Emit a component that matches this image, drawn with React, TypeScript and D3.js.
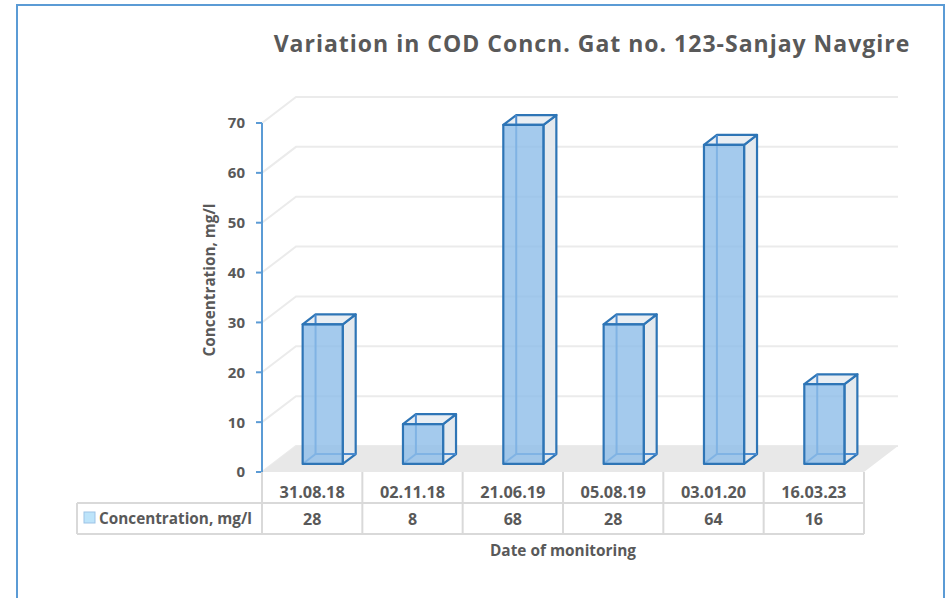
import React from "react";
import * as d3 from "d3";

const categories = ["31.08.18", "02.11.18", "21.06.19", "05.08.19", "03.01.20", "16.03.23"];
const values = [28, 8, 68, 28, 64, 16];
const yTicks = [0, 10, 20, 30, 40, 50, 60, 70];
const seriesName = "Concentration, mg/l";
const title = "Variation in COD Concn. Gat no. 123-Sanjay Navgire";
const xTitle = "Date of monitoring";
const yTitle = "Concentration, mg/l";

const W = 947;
const H = 598;
const FONT = "'Open Sans', sans-serif";
const TXT = "#595959";

// 3D geometry
const DEPTH_X = 34;
const DEPTH_Y = -26;
const Z_FRONT = 0.31;
const Z_BACK = 0.69;

export default function App() {
  const x = d3.scaleBand<string>().domain(categories).range([262, 864]).paddingInner(0).paddingOuter(0);
  const y = d3.scaleLinear().domain([0, 70]).range([472, 123]);
  const proj = (px: number, v: number, z: number): [number, number] => [px + DEPTH_X * z, y(v) + DEPTH_Y * z];
  const bw = x.bandwidth();
  const barW = bw * 0.4;
  const x0 = x.range()[0];
  const x1 = x.range()[1];

  const floor = [proj(x0, 0, 0), proj(x1, 0, 0), proj(x1, 0, 1), proj(x0, 0, 1)];

  const tableTop = 472;
  const rowMid = 503;
  const tableBottom = 534;
  const legendLeft = 77;

  return (
    <svg width={W} height={H} style={{ position: "absolute", left: 0, top: 0, background: "#fff" }}>
      <rect x={17} y={5} width={927} height={600} fill="#fff" stroke="#5b9bd5" strokeWidth={2} />
      <text x={592} y={52} textAnchor="middle" fontFamily={FONT} fontWeight={700} fontSize={23} fill={TXT} letterSpacing={1}>
        {title}
      </text>

      {/* back wall gridlines */}
      {yTicks.map((t) => {
        const a = proj(x0, t, 0);
        const b = proj(x0, t, 1);
        const c = proj(x1, t, 1);
        return (
          <polyline key={"g" + t} points={[a, b, c].map((p) => p.join(",")).join(" ")} fill="none" stroke="#ebebeb" strokeWidth={2} />
        );
      })}

      {/* floor */}
      <polygon points={floor.map((p) => p.join(",")).join(" ")} fill="#e8e8e8" />

      {/* axis */}
      <line x1={x0} x2={x0} y1={y(70)} y2={y(0)} stroke="#5b9bd5" strokeWidth={2} />
      {yTicks.map((t) => (
        <g key={"t" + t}>
          <line x1={x0 - 6} x2={x0} y1={y(t)} y2={y(t)} stroke="#5b9bd5" strokeWidth={2} />
          <text x={245} y={y(t)} dy="0.36em" textAnchor="end" fontFamily={FONT} fontWeight={700} fontSize={15} fill={TXT}>
            {t}
          </text>
        </g>
      ))}
      <text
        transform={`translate(215,280) rotate(-90)`}
        textAnchor="middle"
        fontFamily={FONT}
        fontWeight={700}
        fontSize={15.3}
        fill={TXT}
      >
        {yTitle}
      </text>

      {/* bars */}
      {categories.map((c, i) => {
        const v = values[i];
        const cx = (x(c) as number) + bw / 2;
        const fl = cx - barW / 2;
        const fr = cx + barW / 2;
        const [fx0, fyTop] = proj(fl, v, Z_FRONT);
        const [fx1, fyBot] = proj(fr, 0, Z_FRONT);
        const [bx0, byTop] = proj(fl, v, Z_BACK);
        const [bx1, byBot] = proj(fr, 0, Z_BACK);
        const pts = (arr: [number, number][]) => arr.map((p) => p.join(",")).join(" ");
        return (
          <g key={c}>
            <polygon points={pts([[fx1, fyBot], [fx1, fyTop], [bx1, byTop], [bx1, byBot]])} fill="#e4e9ee" stroke="#2e75b6" strokeWidth={2.2} strokeLinejoin="round" />
            <polygon points={pts([[fx0, fyTop], [fx1, fyTop], [bx1, byTop], [bx0, byTop]])} fill="#e9eef3" stroke="#2e75b6" strokeWidth={2.2} strokeLinejoin="round" />
            <polyline points={pts([[bx0, byTop], [bx0, byBot], [bx1, byBot]])} fill="none" stroke="#4a8bd0" strokeWidth={2} />
            <line x1={fx0} y1={fyBot} x2={bx0} y2={byBot} stroke="#4a8bd0" strokeWidth={2} />
            <rect x={fx0} y={fyTop} width={fx1 - fx0} height={fyBot - fyTop} fill="#8dbde9" fillOpacity={0.8} stroke="#2e75b6" strokeWidth={2.2} strokeLinejoin="round" />
          </g>
        );
      })}

      {/* data table */}
      <g stroke="#d9d9d9" strokeWidth={2} fill="none">
        {categories.map((c, i) => (
          <line key={"v" + i} x1={x(c)} x2={x(c)} y1={tableTop} y2={tableBottom} />
        ))}
        <line x1={x1} x2={x1} y1={tableTop} y2={tableBottom} />
        <line x1={legendLeft} x2={legendLeft} y1={rowMid} y2={tableBottom} />
        <line x1={legendLeft} x2={x1} y1={rowMid} y2={rowMid} />
        <line x1={legendLeft} x2={x1} y1={tableBottom} y2={tableBottom} />
      </g>
      {categories.map((c, i) => (
        <g key={"l" + c}>
          <text x={(x(c) as number) + bw / 2} y={492} textAnchor="middle" dy="0.36em" fontFamily={FONT} fontWeight={700} fontSize={16.3} fill={TXT}>
            {c}
          </text>
          <text x={(x(c) as number) + bw / 2} y={519} textAnchor="middle" dy="0.36em" fontFamily={FONT} fontWeight={700} fontSize={16} fill={TXT}>
            {values[i]}
          </text>
        </g>
      ))}
      <rect x={84} y={512} width={11} height={11} fill="#bde4fa" stroke="#9dc3e6" strokeWidth={1} />
      <text x={99} y={518} dy="0.36em" fontFamily={FONT} fontWeight={700} fontSize={15.3} fill={TXT}>
        {seriesName}
      </text>
      <text x={563} y={550} textAnchor="middle" dy="0.36em" fontFamily={FONT} fontWeight={700} fontSize={15.4} fill={TXT}>
        {xTitle}
      </text>
    </svg>
  );
}
